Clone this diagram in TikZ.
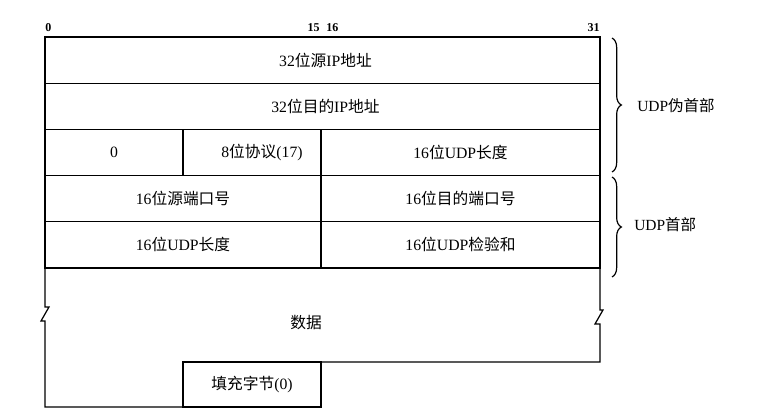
\documentclass[tikz,border=0pt]{standalone}
\usepackage{fontspec}
\setmainfont{Liberation Serif}
\newfontfamily\cjk{Noto Sans CJK SC}
\newcommand{\zhtxt}[1]{{\cjk #1}}
\usepackage{tikz}
\usetikzlibrary{positioning}
\usetikzlibrary{decorations.pathreplacing}

\tikzset{
    field/.style={draw=black, line width=0.9pt, inner sep=0pt, outer sep=0pt,
        minimum height=34.65pt, font=\fontsize{11.8}{14}\selectfont},
    bitno/.style={inner sep=0pt, font=\fontsize{9}{11}\selectfont\bfseries},
    hdrbrace/.style={decorate, decoration={brace, amplitude=7pt}, line width=0.9pt},
    sidelbl/.style={anchor=west, inner sep=0pt, font=\fontsize{11.6}{14}\selectfont}
}

\begin{document}
\begin{tikzpicture}[x=0.75pt, y=-0.75pt]
        \useasboundingbox (0,0) rectangle (758,417);

        % pseudo header
        \node[field, minimum width=416.25pt] (srcip) at (322.5,60.1)
        {\hspace*{4.5pt}32\zhtxt{位源}IP\zhtxt{地址}};
        \node[field, minimum width=416.25pt] (dstip) at (322.5,106.3)
        {\hspace*{4.5pt}32\zhtxt{位目的}IP\zhtxt{地址}};
        \node[field, minimum width=103.5pt] (zero) at (114,152.5) {0};
        \node[field, minimum width=103.5pt] (proto) at (252,152.5)
        {\hspace*{15pt}8\zhtxt{位协议}(17)};
        \node[field, minimum width=209.25pt] (plen) at (460.5,152.5)
        {16\zhtxt{位}UDP\zhtxt{长度}};

        % udp header
        \node[field, minimum width=207pt] (sport) at (183,198.7)
        {16\zhtxt{位源端口号}};
        \node[field, minimum width=209.25pt] (dport) at (460.5,198.7)
        {\raisebox{-2pt}{16\zhtxt{位目的端口号}}};
        \node[field, minimum width=207pt] (ulen) at (183,244.9)
        {16\zhtxt{位}UDP\zhtxt{长度}};
        \node[field, minimum width=209.25pt] (csum) at (460.5,244.9)
        {\raisebox{-1pt}{16\zhtxt{位}UDP\zhtxt{检验和}}};

        % data with zigzag cuts
        \draw[line width=0.9pt]
        (ulen.south west) -- (45,307) -- (49,307) -- (41,321) -- (45,321)
        -- (45,407) -- (183,407);
        \draw[line width=0.9pt]
        (321,362) -- (600,362) -- (600,324) -- (595,324) -- (603,310)
        -- (600,310) -- (csum.south east);
        \node[font=\fontsize{11.8}{14}\selectfont] (data) at (306,323)
        {\zhtxt{数据}};
        \node[field, minimum width=103.5pt, minimum height=33.75pt] (pad)
        at (252,384.5) {\zhtxt{填充字节}(0)};

        % bit numbers
        \node[bitno, anchor=south west] (bit0) at (45,32) {0};
        \node[bitno, anchor=south east] (bit15) at (320,32) {15};
        \node[bitno, anchor=south west] (bit16) at (326,32) {16};
        \node[bitno, anchor=south east] (bit31) at (600,32) {31};

        % braces
        \coordinate (pstop) at (612,38);
        \coordinate (psbot) at (612,172);
        \coordinate (uhtop) at (612,177);
        \coordinate (uhbot) at (612,277);
        \draw[hdrbrace] (pstop) -- (psbot);
        \draw[hdrbrace] (uhtop) -- (uhbot);

        \node[sidelbl] (pslbl) at (637,106) {UDP\zhtxt{伪首部}};
        \node[sidelbl] (uhlbl) at (634,225) {UDP\zhtxt{首部}};
\end{tikzpicture}
\end{document}
